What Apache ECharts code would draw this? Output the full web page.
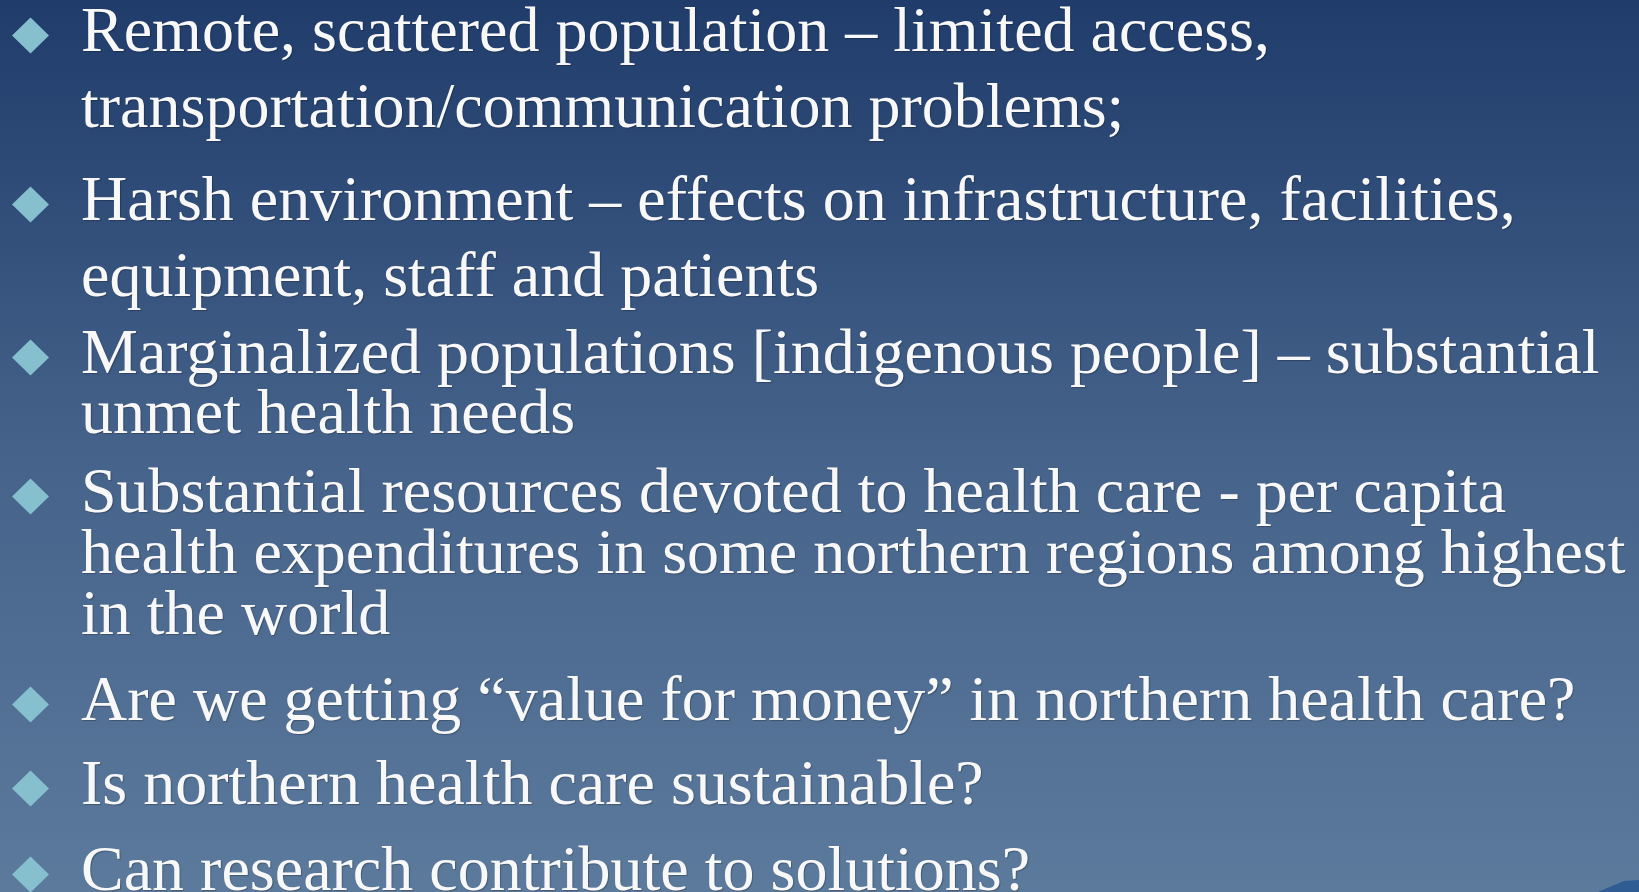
<!DOCTYPE html>
<html>
<head>
<meta charset="utf-8">
<title>Northern health care</title>
<script src="https://cdn.jsdelivr.net/npm/echarts@6/dist/echarts.min.js"></script>
<style>
  html, body { margin: 0; padding: 0; }
  #slide { width: 1639px; height: 892px; }
</style>
</head>
<body>
<div id="slide"></div>
<script>
  // bullet texts, one array per bullet
  const bullet1 = ['Remote, scattered population – limited access,', 'transportation/communication problems;']
  const bullet2 = ['Harsh environment – effects on infrastructure, facilities,', 'equipment, staff and patients']
  const bullet3 = ['Marginalized populations [indigenous people] – substantial', 'unmet health needs']
  const bullet4 = ['Substantial resources devoted to health care - per capita', 'health expenditures in some northern regions among highest', 'in the world']
  const bullet5 = ['Are we getting “value for money” in northern health care?']
  const bullet6 = ['Is northern health care sustainable?']
  const bullet7 = ['Can research contribute to solutions?']
  const bullets = [bullet1, bullet2, bullet3, bullet4, bullet5, bullet6, bullet7]

  // layout (px): first baseline of each bullet and line gap inside it
  const firstBaseline = [52, 221, 374, 513, 721, 805, 891]
  const lineGap = [76, 76, 60, 61, 0, 0, 0]

  const fontSize = 64
  const textLeft = 81
  const textColor = '#f8f8f8'
  const bulletColor = '#86bfcd'

  let myChart = echarts.init(document.getElementById('slide'))
  let elements = []

  bullets.forEach((lines, i) => {
    let base = firstBaseline[i]
    // diamond marker
    let cx = 30.5, cy = base - 16.5
    elements.push({
      type: 'polygon',
      shape: { points: [[cx, cy - 18], [cx + 18.5, cy], [cx, cy + 18], [cx - 18.5, cy]] },
      style: { fill: bulletColor }
    })
    lines.forEach((txt, j) => {
      let y = base + j * lineGap[i]
      elements.push({
        type: 'text',
        x: textLeft,
        y: y - fontSize * 0.28,
        style: {
          text: txt,
          fill: textColor,
          font: fontSize + 'px "Liberation Serif", "Times New Roman", serif',
          align: 'left',
          verticalAlign: 'middle',
          textShadowColor: 'rgba(0,0,0,0.25)',
          textShadowOffsetX: 1,
          textShadowOffsetY: 1,
          textShadowBlur: 1
        }
      })
    })
  })

  // little dark peak in the bottom right corner
  elements.push({
    type: 'polygon',
    shape: { points: [[1598, 892], [1612, 886], [1624, 881], [1639, 880], [1639, 892]] },
    style: { fill: '#2e5c93' }
  })

  let option = {
    backgroundColor: {
      type: 'linear', x: 0, y: 0, x2: 0, y2: 1,
      colorStops: [
        { offset: 0, color: '#1f3c6b' },
        { offset: 0.5, color: '#45628a' },
        { offset: 1, color: '#5b7a9c' }
      ]
    },
    graphic: { elements: elements }
  }
  myChart.setOption(option)
</script>
</body>
</html>
